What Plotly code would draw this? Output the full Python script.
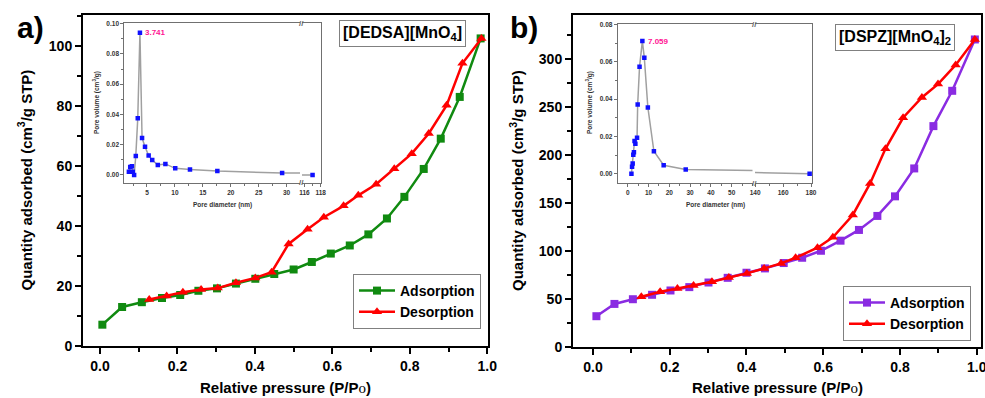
import plotly.graph_objects as go

W, H = 985, 398

# ---------------- data ----------------
# Panel a: [DEDSA][MnO4]
a_ads_x = [0.006, 0.057, 0.108, 0.160, 0.207, 0.254, 0.302, 0.351, 0.401, 0.450, 0.500,
           0.547, 0.596, 0.645, 0.693, 0.741, 0.786, 0.836, 0.880, 0.929, 0.983]
a_ads_y = [7.1, 13.0, 14.6, 16.0, 17.0, 18.4, 19.2, 20.8, 22.4, 24.0, 25.5,
           28.0, 30.8, 33.5, 37.2, 42.5, 49.7, 59.0, 69.1, 83.0, 102.5]
a_des_x = [0.127, 0.172, 0.214, 0.261, 0.304, 0.351, 0.401, 0.443, 0.487, 0.536, 0.578,
           0.629, 0.667, 0.713, 0.760, 0.805, 0.849, 0.895, 0.936, 0.985]
a_des_y = [15.5, 16.7, 17.9, 18.8, 19.3, 21.1, 22.7, 24.6, 34.0, 38.9, 42.9,
           46.7, 50.2, 53.9, 59.1, 64.1, 70.8, 80.2, 94.2, 102.5]
# Panel a inset: pore size distribution
a_pore_d = [1.76, 2.0, 2.3, 2.47, 2.7, 3.0, 3.35, 3.741, 4.12, 4.65, 5.3, 5.94, 6.94,
            8.3, 10.06, 12.7, 17.6, 29.2, 117.0]
a_pore_v = [0.0022, 0.0053, 0.0057, 0.0022, 0.0, 0.0126, 0.0374, 0.094, 0.0244, 0.0187,
            0.0128, 0.0099, 0.0066, 0.0073, 0.0044, 0.0037, 0.0026, 0.0013, 0.0]

# Panel b: [DSPZ][MnO4]2
b_ads_x = [0.009, 0.056, 0.104, 0.154, 0.202, 0.251, 0.301, 0.351, 0.400, 0.448, 0.497,
           0.545, 0.594, 0.645, 0.693, 0.741, 0.787, 0.837, 0.887, 0.936, 0.995]
b_ads_y = [32.1, 44.9, 49.8, 54.4, 58.9, 62.4, 67.2, 72.1, 77.4, 81.9, 87.5,
           93.0, 100.3, 110.8, 122.0, 136.6, 157.0, 186.1, 230.2, 267.0, 320.5]
b_des_x = [0.126, 0.175, 0.220, 0.262, 0.310, 0.354, 0.401, 0.446, 0.490, 0.528, 0.585,
           0.625, 0.677, 0.722, 0.762, 0.808, 0.857, 0.899, 0.945, 0.995]
b_des_y = [52.3, 57.5, 61.0, 64.1, 67.9, 72.5, 76.7, 81.9, 87.1, 93.0, 103.5,
           114.3, 137.6, 170.5, 206.5, 238.9, 260.0, 274.0, 294.0, 320.5]
b_pore_d = [1.8, 2.1, 2.4, 2.7, 3.0, 3.3, 3.7, 4.5, 4.8, 5.7, 7.059, 8.0, 9.7, 12.6,
            17.3, 27.9, 179.0]
b_pore_v = [0.0, 0.0037, 0.0055, 0.0102, 0.0115, 0.0175, 0.0160, 0.0192, 0.0371, 0.0574,
            0.0711, 0.0621, 0.0355, 0.0120, 0.0045, 0.0022, 0.0]

titles = ["[DEDSA][MnO<sub>4</sub>]", "[DSPZ][MnO<sub>4</sub>]<sub>2</sub>"]
panel_labels = ["a)", "b)"]

# ---------------- helpers (layout positions) ----------------
def px(x):
    return x / W

def py(y):
    return 1 - y / H

FONT = "Liberation Sans, Arial, sans-serif"
GREEN = "#108a10"
RED = "#ff0000"
PURPLE = "#8a2be2"
BLUE = "#1010ff"
GRAYLINE = "#a0a0a0"

fig = go.Figure()

# main traces
fig.add_trace(go.Scatter(x=a_ads_x, y=a_ads_y, mode="lines+markers", name="Adsorption",
                         line=dict(color=GREEN, width=2.5),
                         marker=dict(symbol="square", size=8, color=GREEN),
                         xaxis="x", yaxis="y", legend="legend"))
fig.add_trace(go.Scatter(x=a_des_x, y=a_des_y, mode="lines+markers", name="Desorption",
                         line=dict(color=RED, width=2.5),
                         marker=dict(symbol="triangle-up", size=9, color=RED),
                         xaxis="x", yaxis="y", legend="legend"))
fig.add_trace(go.Scatter(x=b_ads_x, y=b_ads_y, mode="lines+markers", name="Adsorption",
                         line=dict(color=PURPLE, width=2.5),
                         marker=dict(symbol="square", size=8, color=PURPLE),
                         xaxis="x2", yaxis="y2", legend="legend2"))
fig.add_trace(go.Scatter(x=b_des_x, y=b_des_y, mode="lines+markers", name="Desorption",
                         line=dict(color=RED, width=2.5),
                         marker=dict(symbol="triangle-up", size=9, color=RED),
                         xaxis="x2", yaxis="y2", legend="legend2"))

# inset traces (broken x axes: two segments each)
for xa, ya, d, v in [("x3", "y3", a_pore_d, a_pore_v), ("x4", "y4", a_pore_d, a_pore_v),
                     ("x5", "y5", b_pore_d, b_pore_v), ("x6", "y6", b_pore_d, b_pore_v)]:
    fig.add_trace(go.Scatter(x=d, y=v, mode="lines+markers", showlegend=False,
                             line=dict(color=GRAYLINE, width=1.5),
                             marker=dict(symbol="square", size=4.5, color=BLUE),
                             xaxis=xa, yaxis=ya))

main_tick = dict(family=FONT, size=14, color="black", weight="bold")
main_common = dict(showline=True, linecolor="black", linewidth=2, mirror=True,
                   ticks="outside", ticklen=6, tickwidth=1.5, tickcolor="black",
                   tickfont=main_tick, showgrid=False, zeroline=False, automargin=False,
                   ticklabeloverflow="allow")

ins_tick = dict(family=FONT, size=6.5, color="#333333", weight="bold")
ins_common = dict(showline=True, linecolor="#707070", linewidth=1, mirror=True,
                  ticks="outside", ticklen=3, tickwidth=1, tickcolor="#707070",
                  tickfont=ins_tick, showgrid=False, zeroline=False, automargin=False,
                  ticklabeloverflow="allow")
ins_y_common = {k: v for k, v in ins_common.items() if k != "mirror"}

layout = dict(
    width=W, height=H, margin=dict(l=0, r=0, t=0, b=0, pad=0, autoexpand=False),
    paper_bgcolor="white", plot_bgcolor="white",
    # main a
    xaxis=dict(domain=[px(83), px(488)], range=[-0.044, 1.002], anchor="y",
               tickvals=[0, 0.2, 0.4, 0.6, 0.8, 1.0], ticktext=["0.0", "0.2", "0.4", "0.6", "0.8", "1.0"],
               minor=dict(dtick=0.1, tick0=0, ticks="outside", ticklen=4, tickcolor="black"),
               **main_common),
    yaxis=dict(domain=[py(346), py(15)], range=[0, 110.3], anchor="x", dtick=20,
               minor=dict(dtick=10, ticks="outside", ticklen=4, tickcolor="black"),
               **main_common),
    # main b
    xaxis2=dict(domain=[px(573), px(981)], range=[-0.052, 1.011], anchor="y2",
                tickvals=[0, 0.2, 0.4, 0.6, 0.8, 1.0], ticktext=["0.0", "0.2", "0.4", "0.6", "0.8", "1.0"],
                minor=dict(dtick=0.1, tick0=0, ticks="outside", ticklen=4, tickcolor="black"),
                **main_common),
    yaxis2=dict(domain=[py(347), py(15)], range=[0, 346], anchor="x2", dtick=50,
                minor=dict(dtick=25, ticks="outside", ticklen=4, tickcolor="black"),
                **main_common),
    # inset a, segment 1
    xaxis3=dict(domain=[px(124.3), px(300)], range=[0.94, 32.4], anchor="y3",
                tickvals=[5, 10, 15, 20, 25, 30],
                minor=dict(dtick=2.5, tick0=0, ticks="outside", ticklen=2, tickcolor="#707070"),
                **ins_common),
    yaxis3=dict(domain=[py(182.7), py(23.3)], range=[-0.0051, 0.1002], anchor="x3",
                tickvals=[0, 0.02, 0.04, 0.06, 0.08, 0.10],
                ticktext=["0.00", "0.02", "0.04", "0.06", "0.08", "0.10"],
                minor=dict(dtick=0.01, tick0=0, ticks="outside", ticklen=2, tickcolor="#707070"),
                **ins_y_common),
    # inset a, segment 2
    xaxis4=dict(domain=[px(302), px(321)], range=[115.7, 118.04], anchor="y4",
                tickvals=[116, 118],
                minor=dict(dtick=1, tick0=0, ticks="outside", ticklen=2, tickcolor="#707070"),
                **ins_common),
    yaxis4=dict(domain=[py(182.7), py(23.3)], range=[-0.0051, 0.1002], anchor="x4", side="right",
                showline=True, linecolor="#707070", linewidth=1, ticks="", showticklabels=False,
                showgrid=False, zeroline=False, automargin=False),
    # inset b, segment 1
    xaxis5=dict(domain=[px(617.7), px(752.5)], range=[-4.8, 60.0], anchor="y5",
                tickvals=[0, 10, 20, 30, 40, 50],
                minor=dict(dtick=5, tick0=0, ticks="outside", ticklen=2, tickcolor="#707070"),
                **ins_common),
    yaxis5=dict(domain=[py(183), py(24.3)], range=[-0.005, 0.0801], anchor="x5",
                tickvals=[0, 0.02, 0.04, 0.06, 0.08],
                ticktext=["0.00", "0.02", "0.04", "0.06", "0.08"],
                minor=dict(dtick=0.01, tick0=0, ticks="outside", ticklen=2, tickcolor="#707070"),
                **ins_y_common),
    # inset b, segment 2
    xaxis6=dict(domain=[px(755), px(812)], range=[139.9, 180.7], anchor="y6",
                tickvals=[140, 160, 180],
                minor=dict(dtick=10, tick0=0, ticks="outside", ticklen=2, tickcolor="#707070"),
                **ins_common),
    yaxis6=dict(domain=[py(183), py(24.3)], range=[-0.005, 0.0801], anchor="x6", side="right",
                showline=True, linecolor="#707070", linewidth=1, ticks="", showticklabels=False,
                showgrid=False, zeroline=False, automargin=False),
    legend=dict(x=px(353), y=py(274), xanchor="left", yanchor="top",
                bordercolor="#808080", borderwidth=1, bgcolor="white",
                font=dict(family=FONT, size=14, color="black", weight="bold"),
                tracegroupgap=0, itemwidth=36),
    legend2=dict(x=px(843), y=py(286), xanchor="left", yanchor="top",
                 bordercolor="#808080", borderwidth=1, bgcolor="white",
                 font=dict(family=FONT, size=14, color="black", weight="bold"),
                 tracegroupgap=0, itemwidth=36),
)
fig.update_layout(**layout)

ann = []
C = dict(xref="paper", yref="paper", showarrow=False, xanchor="center", yanchor="middle")
# panel letters
for lab, x, y in [(panel_labels[0], 30, 27), (panel_labels[1], 524, 28)]:
    ann.append(dict(text=lab, x=px(x), y=py(y),
                    font=dict(family=FONT, size=30, color="black", weight="bold"), **C))
# sample title boxes
for t, x, y in [(titles[0], 402.5, 33.5), (titles[1], 895, 37.5)]:
    ann.append(dict(text=t, x=px(x), y=py(y),
                    font=dict(family=FONT, size=16, color="black", weight="bold"),
                    bordercolor="#808080", borderwidth=1, borderpad=3, bgcolor="white", **C))
# main axis titles
for x in [285.5, 777]:
    ann.append(dict(text="Relative pressure (P/P<span style='font-family:Liberation Serif;font-weight:normal'>o</span>)",
                    x=px(x), y=py(387.5),
                    font=dict(family=FONT, size=15, color="black", weight="bold"), **C))
for x, y in [(25, 180.5), (516, 181)]:
    ann.append(dict(text="Quantity adsorbed (cm<sup>3</sup>/g STP)", x=px(x), y=py(y),
                    textangle=-90,
                    font=dict(family=FONT, size=15, color="black", weight="bold"), **C))
# inset axis titles
for x, y in [(222.5, 205), (715, 205)]:
    ann.append(dict(text="Pore diameter (nm)", x=px(x), y=py(y),
                    font=dict(family=FONT, size=6.5, color="#333333", weight="bold"), **C))
for x, y in [(96, 103), (589, 103)]:
    ann.append(dict(text="Pore volume (cm<sup>3</sup>/g)", x=px(x), y=py(y), textangle=-90,
                    font=dict(family=FONT, size=6.5, color="#333333", weight="bold"), **C))
# break marks
for x, ytop, ybot in [(301, 23.3, 182.7), (754, 24.3, 183)]:
    for y in (ytop, ybot):
        ann.append(dict(text="//", x=px(x), y=py(y),
                        font=dict(family=FONT, size=8, color="#606060", weight="bold"), **C))
# peak labels
ia = a_pore_v.index(max(a_pore_v))
ib = b_pore_v.index(max(b_pore_v))
ann.append(dict(text=f"{a_pore_d[ia]:.3f}", x=a_pore_d[ia], y=a_pore_v[ia], xref="x3", yref="y3",
                xanchor="left", yanchor="middle", xshift=3, showarrow=False,
                font=dict(family=FONT, size=8, color="#ff1493", weight="bold")))
ann.append(dict(text=f"{b_pore_d[ib]:.3f}", x=b_pore_d[ib], y=b_pore_v[ib], xref="x5", yref="y5",
                xanchor="left", yanchor="middle", xshift=4, showarrow=False,
                font=dict(family=FONT, size=8, color="#ff1493", weight="bold")))
fig.update_layout(annotations=ann)

fig.write_html("out.html")
